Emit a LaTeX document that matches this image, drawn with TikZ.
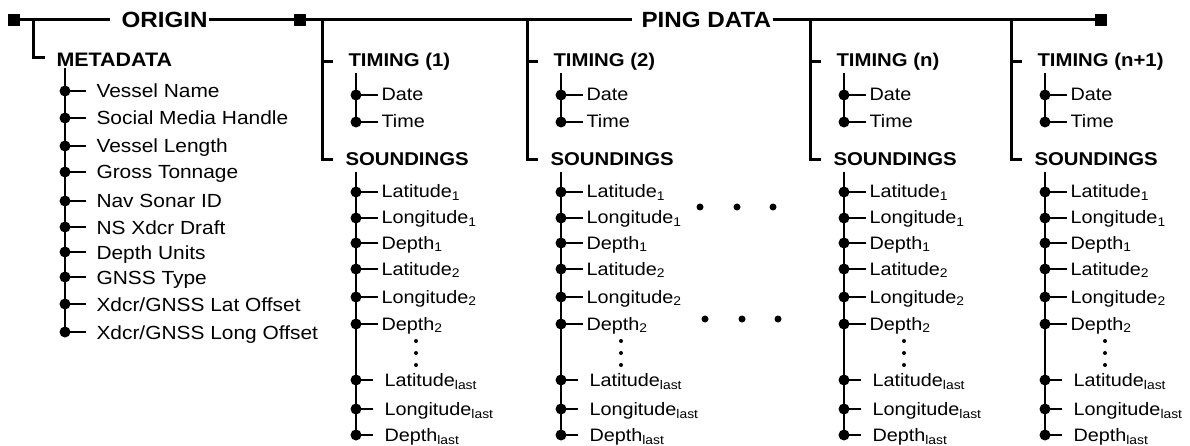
\documentclass[tikz,border=0pt]{standalone}
\usepackage{fontspec}
\setmainfont{Liberation Sans}[FakeStretch=1.1]
\begin{document}
\begin{tikzpicture}[x=1pt,y=-1pt,line width=3pt,
  lbl/.style={anchor=base west,inner sep=0pt,font=\fontsize{18}{20}\selectfont},
  mlbl/.style={anchor=base west,inner sep=0pt,font=\fontsize{19}{21}\selectfont},
  hd/.style={anchor=base west,inner sep=0pt,font=\fontsize{18.5}{20}\selectfont\bfseries},
  mhd/.style={anchor=base west,inner sep=0pt,font=\fontsize{19.5}{21}\selectfont\bfseries},
  topl/.style={anchor=base west,inner sep=0pt,font=\fontsize{22}{24}\selectfont\bfseries},
  sq/.style={fill,draw=none,minimum size=12pt,inner sep=0pt},
  bdot/.style={circle,fill,draw=none,minimum size=11pt,inner sep=0pt},
  hdot/.style={circle,fill,draw=none,minimum size=7pt,inner sep=0pt},
  vdot/.style={circle,fill,draw=none,minimum size=4pt,inner sep=0pt},
  sub/.style={line width=2.8pt}]
\useasboundingbox (0,0) rectangle (1190,446);
% top bar
\node[sq] (s1) at (14,20) {};
\node[sq] (s2) at (300,20) {};
\node[sq] (s3) at (1101,20) {};
\node[topl] (orig) at (120,28) {ORIGIN};
\node[topl] (ping) at (640,28) {PING DATA};
\draw (s1.center) -- ([xshift=-10pt]orig.west |- s1.center);
\draw (orig.east |- s1.center) -- (s2.center);
\draw (s2.center) -- ([xshift=-8pt]ping.west |- s2.center);
\draw (ping.east |- s2.center) -- (s3.center);
% metadata
\coordinate (m0) at (33,20);
\coordinate (m1) at (45,58);
\node[mhd] (meta) at (55,67) {METADATA};
\draw (m0) |- (m1);
\coordinate (mv) at (65,68);
\foreach \y/\t [count=\i] in {91/{Vessel Name},118/{Social Media Handle},146/{Vessel Length},172/{Gross Tonnage},201/{Nav Sonar ID},227/{NS Xdcr Draft},252/{Depth Units},277/{GNSS Type},304/{Xdcr/GNSS Lat Offset},332/{Xdcr/GNSS Long Offset}}{
  \node[bdot] (md\i) at (65,\y) {};
  \coordinate (mt\i) at (86,\y);
  \node[mlbl] (ml\i) at (95,\y+7) {\t};
  \draw[sub] (md\i.center) -- (mt\i);
}
\draw[sub] (mv) -- (md10.center);
% ping columns
\foreach \c/\lab [count=\k] in {322/1,527/2,810/n,1011/n+1}{
  \coordinate (c\k-top) at (\c,20);
  \coordinate (c\k-a) at (\c+11,62);
  \coordinate (c\k-b) at (\c+11,160);
  \coordinate (c\k-m) at (\c,62);
  \node[hd] (c\k-tim) at (\c+25,67) {TIMING (\lab)};
  \node[hd] (c\k-snd) at (\c+22,166) {SOUNDINGS};
  \draw (c\k-top) |- (c\k-b);
  \draw (c\k-m) -- (c\k-a);
  % timing
  \coordinate (c\k-tv) at (\c+34,73);
  \node[bdot] (c\k-d1) at (\c+34,95) {};
  \node[bdot] (c\k-d2) at (\c+34,122) {};
  \draw[sub] (c\k-tv) -- (c\k-d2.center);
  \coordinate (c\k-e1) at (\c+56,95);
  \coordinate (c\k-e2) at (\c+56,122);
  \draw[sub] (c\k-d1.center) -- (c\k-e1);
  \draw[sub] (c\k-d2.center) -- (c\k-e2);
  \node[lbl] (c\k-date) at (\c+58,101) {Date};
  \node[lbl] (c\k-time) at (\c+58,128) {Time};
  % soundings
  \coordinate (c\k-sv) at (\c+34,172);
  \foreach \y/\t [count=\j] in {192/Latitude\textsubscript{1},218/Longitude\textsubscript{1},243/Depth\textsubscript{1},269/Latitude\textsubscript{2},297/Longitude\textsubscript{2},324/Depth\textsubscript{2}}{
    \node[bdot] (c\k-s\j) at (\c+34,\y) {};
    \coordinate (c\k-st\j) at (\c+56,\y);
    \draw[sub] (c\k-s\j.center) -- (c\k-st\j);
    \node[lbl] (c\k-sl\j) at (\c+58,\y+6) {\t};
  }
  \foreach \y/\t [count=\j from 7] in {380/Latitude\textsubscript{last},409/Longitude\textsubscript{last},435/Depth\textsubscript{last}}{
    \node[bdot] (c\k-s\j) at (\c+34,\y) {};
    \coordinate (c\k-st\j) at (\c+51,\y);
    \draw[sub] (c\k-s\j.center) -- (c\k-st\j);
    \node[lbl] (c\k-sl\j) at (\c+61,\y+6) {\t};
  }
  \draw[sub] (c\k-sv) -- (c\k-s9.center);
  \node[vdot] (c\k-v1) at (\c+94,341) {};
  \node[vdot] (c\k-v2) at (\c+94,353) {};
  \node[vdot] (c\k-v3) at (\c+94,365) {};
}
% horizontal ellipses
\node[hdot] (h1) at (700,207) {};
\node[hdot] (h2) at (737,207) {};
\node[hdot] (h3) at (773,207) {};
\node[hdot] (h4) at (705,319) {};
\node[hdot] (h5) at (742,319) {};
\node[hdot] (h6) at (778,319) {};
\end{tikzpicture}
\end{document}
